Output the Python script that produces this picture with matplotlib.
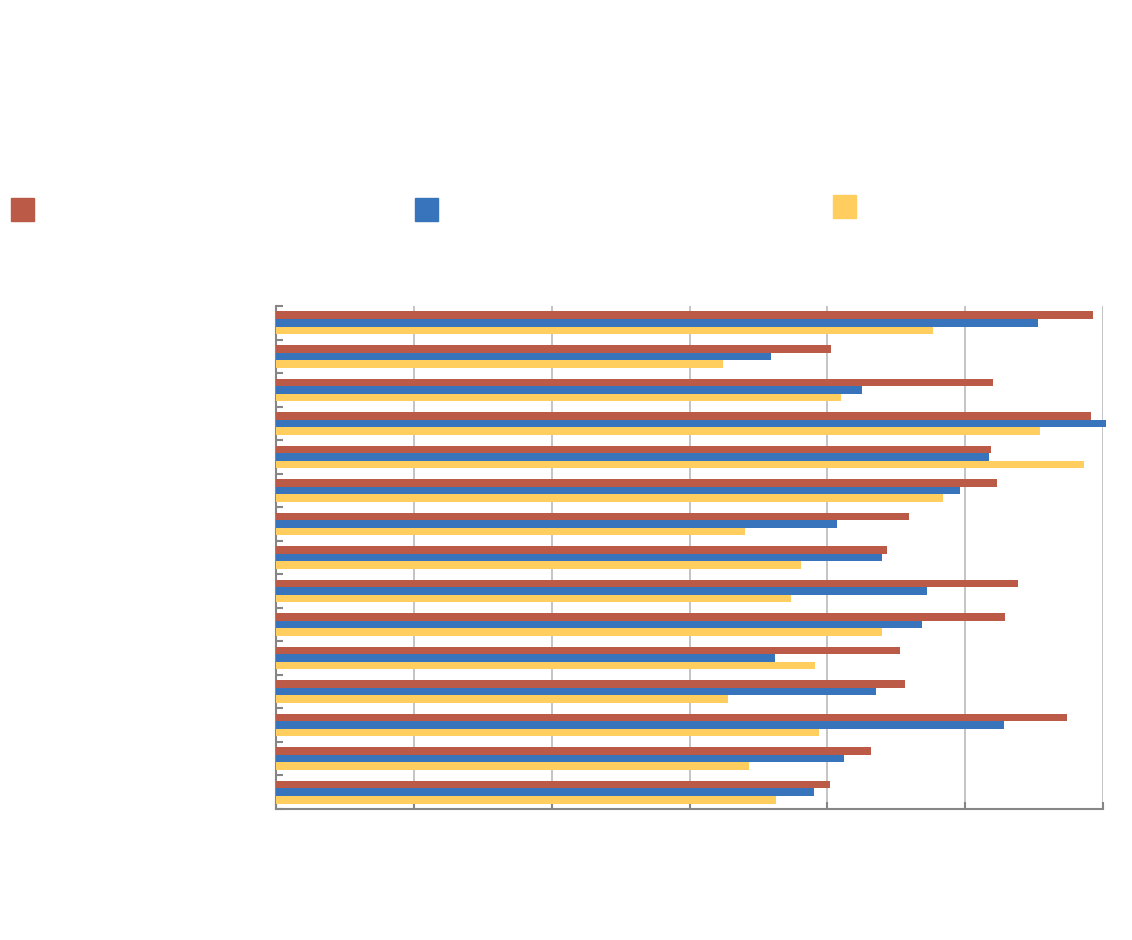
import matplotlib
matplotlib.use("Agg")
import matplotlib.pyplot as plt
import numpy as np
from matplotlib.patches import Rectangle

# Values (axis 0..6), top category first
red = [5.93, 4.03, 5.20, 5.91, 5.19, 5.23, 4.59, 4.43, 5.38, 5.29, 4.53, 4.56, 5.74, 4.32, 4.02]
blue = [5.53, 3.59, 4.25, 6.02, 5.17, 4.96, 4.07, 4.40, 4.72, 4.69, 3.62, 4.35, 5.28, 4.12, 3.90]
yellow = [4.77, 3.24, 4.10, 5.54, 5.86, 4.84, 3.40, 3.81, 3.74, 4.40, 3.91, 3.28, 3.94, 3.43, 3.63]

colors = ["#BB5A47", "#3874BB", "#FFCE5E"]

fig = plt.figure(figsize=(11.32, 9.4), dpi=100)
ax = fig.add_axes([276 / 1132, 131 / 940, 827 / 1132, 503 / 940])

y = np.arange(len(red))
h = 0.224
for i, (vals, c) in enumerate(zip([red, blue, yellow], colors)):
    ax.barh(y + (i - 1) * h, vals, height=h, color=c, zorder=3, clip_on=False)

ax.set_xlim(0, 6)
ax.set_ylim(len(red) - 0.5, -0.5)
ax.set_xticks(np.arange(0, 7))
ax.set_yticks(np.arange(-0.5, len(red)))
ax.set_xticklabels([])
ax.set_yticklabels([])
ax.grid(axis="x", color="#BFBFBF", linewidth=1.3, zorder=0)
ax.tick_params(axis="both", direction="in", length=5, width=1.5, color="#868686")
for s in ["top", "right"]:
    ax.spines[s].set_visible(False)
for s in ["left", "bottom"]:
    ax.spines[s].set_color("#868686")
    ax.spines[s].set_linewidth(1.5)

# legend squares (no labels in the reference)
for (px, py), c in zip([(11, 198), (415, 198), (833, 195)], colors):
    fig.add_artist(Rectangle((px / 1132, 1 - (py + 23) / 940), 23 / 1132, 23 / 940,
                             transform=fig.transFigure, color=c))

fig.savefig("out.png", dpi=100)
